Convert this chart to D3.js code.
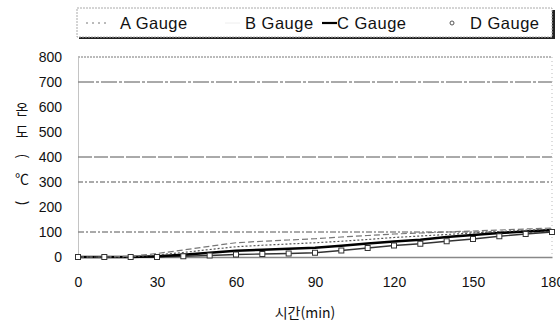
<html lang="ko">
  <head>
    <meta charset="UTF-8" />
    <title>Gauge temperature</title>
    <script src="https://d3js.org/d3.v7.min.js"></script>
  </head>
  <body>
    <style>
      body {
        background-color: #ffffff;
        margin: 0;
        padding: 0;
        font-family: "Liberation Sans", Arial, sans-serif;
      }
      svg {
        display: block;
      }
      text {
        fill: #111;
      }
    </style>
    <script>
      const w = 560;
      const h = 323;
      const margin = { top: 57, right: 8, bottom: 67, left: 78 };

      // data
      const times = [0, 10, 20, 30, 40, 50, 60, 70, 80, 90, 100, 110, 120, 130, 140, 150, 160, 170, 180];
      const gaugeA = [0, 0, 3, 14, 28, 43, 57, 63, 68, 73, 80, 86, 92, 96, 100, 104, 108, 112, 116];
      const gaugeB = [0, 0, 1, 8, 18, 30, 41, 47, 52, 57, 63, 70, 78, 84, 90, 96, 102, 107, 112];
      const gaugeC = [0, 0, 0, 3, 9, 17, 25, 29, 33, 37, 45, 54, 62, 69, 80, 88, 96, 102, 108];
      const gaugeD = [0, 0, 0, 0, 3, 6, 10, 12, 14, 17, 26, 36, 46, 53, 63, 72, 83, 92, 100];
      const seriesNames = ["A Gauge", "B Gauge", "C Gauge", "D Gauge"];
      const xTicks = [0, 30, 60, 90, 120, 150, 180];
      const yTicks = [0, 100, 200, 300, 400, 500, 600, 700, 800];
      const gridValues = [100, 300, 400, 700, 800];
      const yLabelChars = ["온", "도", "(", "℃", ")"];

      const styles = {
        "A Gauge": { stroke: "#777", width: 1.2, dash: "6,3" },
        "B Gauge": { stroke: "#555", width: 1.2, dash: "2,2" },
        "C Gauge": { stroke: "#000", width: 2.6, dash: null },
        "D Gauge": { stroke: "#333", width: 1.4, dash: null },
      };
      const gridStyles = {
        100: "6,2,2,2",
        300: "5,2,2,2",
        400: "14,2",
        700: "16,2,3,2",
        800: "2,1",
      };

      const svg = d3.select("body").append("svg").attr("width", w).attr("height", h);

      const x = d3.scaleLinear().domain([0, 180]).range([margin.left, w - margin.right]);
      const y = d3.scaleLinear().domain([0, 800]).range([h - margin.bottom + 1, margin.top]);

      // gridlines
      svg.append("g")
        .selectAll("line")
        .data(gridValues)
        .join("line")
        .attr("x1", x(0))
        .attr("x2", x(180))
        .attr("y1", (d) => y(d))
        .attr("y2", (d) => y(d))
        .attr("stroke", (d) => (d === 800 ? "#777" : "#555"))
        .attr("stroke-width", 1)
        .attr("stroke-dasharray", (d) => gridStyles[d]);

      // right border (faint)
      svg.append("line")
        .attr("x1", x(180)).attr("x2", x(180))
        .attr("y1", y(800)).attr("y2", y(0))
        .attr("stroke", "#bbb")
        .attr("stroke-dasharray", "1,3");

      // axes
      const xAxis = d3.axisBottom(x).tickValues(xTicks).tickSize(0).tickPadding(20);
      svg.append("g")
        .attr("transform", `translate(0, ${y(0)})`)
        .call(xAxis)
        .call((g) => g.select(".domain").attr("stroke", "#888").attr("stroke-width", 1.5))
        .call((g) => g.selectAll("text").attr("font-size", 14).attr("font-family", "Liberation Sans, Arial"));

      const yAxis = d3.axisLeft(y).tickValues(yTicks).tickSize(0).tickPadding(16);
      svg.append("g")
        .attr("transform", `translate(${x(0)}, 0)`)
        .call(yAxis)
        .call((g) => g.select(".domain").attr("stroke", "#888").attr("stroke-dasharray", "1,1"))
        .call((g) => g.selectAll("text").attr("font-size", 14).attr("font-family", "Liberation Sans, Arial"));

      // series
      const allSeries = [gaugeA, gaugeB, gaugeC, gaugeD];
      const line = d3.line().x((d, i) => x(times[i])).y((d) => y(d));
      const order = [3, 2, 1, 0];
      const seriesG = svg.append("g");
      order.forEach((k) => {
        const s = styles[seriesNames[k]];
        seriesG.append("path")
          .datum(allSeries[k])
          .attr("fill", "none")
          .attr("stroke", s.stroke)
          .attr("stroke-width", s.width)
          .attr("stroke-dasharray", s.dash)
          .attr("d", line);
      });

      seriesG.append("g")
        .selectAll("rect")
        .data(gaugeD)
        .join("rect")
        .attr("x", (d, i) => x(times[i]) - 2.5)
        .attr("y", (d) => y(d) - 2.5)
        .attr("width", 5)
        .attr("height", 5)
        .attr("fill", "#fff")
        .attr("stroke", "#333")
        .attr("stroke-width", 1);

      // axis titles
      svg.append("text")
        .attr("x", 305)
        .attr("y", 318)
        .attr("text-anchor", "middle")
        .attr("font-size", 14)
        .attr("font-family", "Noto Sans CJK KR, sans-serif")
        .text("시간(min)");

      // vertical y title: characters stacked, brackets turned sideways
      svg.append("g")
        .selectAll("text")
        .data(yLabelChars)
        .join("text")
        .attr("transform", (d, i) => {
          const cy = 109 + i * 23.5;
          return d === "(" || d === ")"
            ? `translate(22, ${cy}) rotate(90)`
            : `translate(22, ${cy})`;
        })
        .attr("dy", "0.35em")
        .attr("text-anchor", "middle")
        .attr("font-size", 14)
        .attr("font-family", "Noto Sans CJK KR, sans-serif")
        .text((d) => d);

      // legend
      const legend = svg.append("g");
      legend.append("rect")
        .attr("x", 79).attr("y", 10).attr("width", 476).attr("height", 29)
        .attr("fill", "#222");
      legend.append("rect")
        .attr("x", 77).attr("y", 8).attr("width", 475).attr("height", 29)
        .attr("fill", "#fff")
        .attr("stroke", "#aaa")
        .attr("stroke-dasharray", "2,1");
      const legendSym = [[86, 108], [225, 240], [322, 337], [452, 452]];
      const legendTextX = [120, 245, 337, 470];
      seriesNames.forEach((name, i) => {
        const s = styles[name];
        if (i < 3) {
          legend.append("line")
            .attr("x1", legendSym[i][0]).attr("x2", legendSym[i][1])
            .attr("y1", 23).attr("y2", 23)
            .attr("stroke", i === 1 ? "#eee" : s.stroke)
            .attr("stroke-width", i === 2 ? 2.2 : 1)
            .attr("stroke-dasharray", i === 0 ? "2,4" : null);
        } else {
          legend.append("circle")
            .attr("cx", legendSym[i][0]).attr("cy", 23).attr("r", 2)
            .attr("fill", "#fff").attr("stroke", "#555");
        }
        legend.append("text")
          .attr("x", legendTextX[i])
          .attr("y", 29)
          .attr("font-size", 16.5)
          .attr("letter-spacing", 0.5)
          .text(name);
      });
    </script>
  </body>
</html>
